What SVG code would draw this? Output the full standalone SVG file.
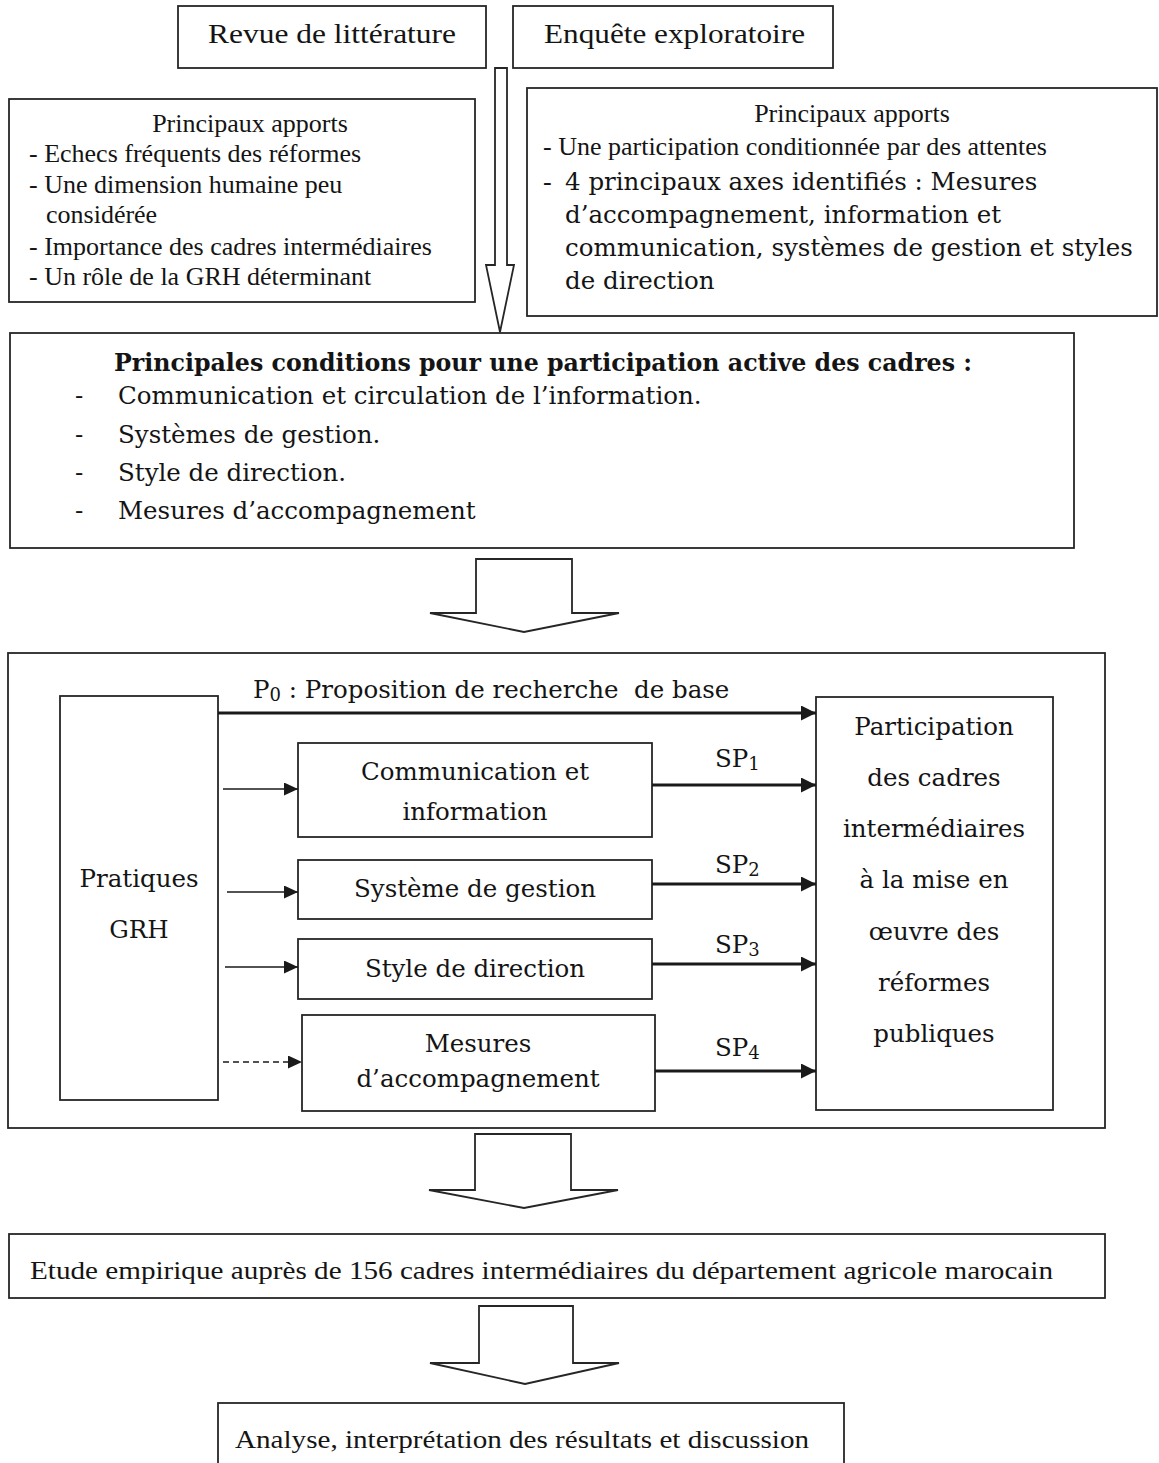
<svg xmlns="http://www.w3.org/2000/svg" width="1159" height="1463" viewBox="0 0 1159 1463">
  <defs>
    <marker id="headThin" markerUnits="userSpaceOnUse" markerWidth="15" markerHeight="14" refX="14" refY="6.5" orient="auto">
      <path d="M0,0 L14,6.5 L0,13 z" fill="#1a1a1a"/>
    </marker>
    <marker id="headBold" markerUnits="userSpaceOnUse" markerWidth="16" markerHeight="15" refX="15" refY="7.5" orient="auto">
      <path d="M0,0 L15,7.5 L0,15 z" fill="#1a1a1a"/>
    </marker>
  </defs>
  <style>
    .box { fill: #ffffff; stroke: #262626; stroke-width: 1.8; }
    .frame { fill: none; stroke: #262626; stroke-width: 1.8; }
    .block { fill: #ffffff; stroke: #262626; stroke-width: 1.8; stroke-linejoin: miter; }
    .tnr { font-family: "Liberation Serif", "Times New Roman", serif; fill: #141414; }
    .cam { font-family: "DejaVu Serif", serif; fill: #141414; font-size: 24.5px; }
    .bold { font-weight: bold; }
    .mid { text-anchor: middle; }
    .thin { stroke: #1a1a1a; stroke-width: 1.6; fill: none; marker-end: url(#headThin); }
    .dashed { stroke-dasharray: 6 4; }
    .thick { stroke: #1a1a1a; stroke-width: 3.2; fill: none; marker-end: url(#headBold); }
  </style>

  <rect width="1159" height="1463" fill="#ffffff"/>

  <!-- sources -->
  <g id="revue">
    <rect class="box" x="178" y="6" width="308" height="62"/>
    <text class="tnr mid" x="332" y="43" font-size="27" textLength="248" lengthAdjust="spacingAndGlyphs">Revue de littérature</text>
  </g>
  <g id="enquete">
    <rect class="box" x="513" y="6" width="320" height="62"/>
    <text class="tnr mid" x="674.5" y="43" font-size="27" textLength="261" lengthAdjust="spacingAndGlyphs">Enquête exploratoire</text>
  </g>

  <g id="apports-litterature">
    <rect class="box" x="9" y="99" width="466" height="203"/>
    <text class="tnr mid" x="250" y="132" font-size="26">Principaux apports</text>
    <text class="tnr" x="29" y="162" font-size="26">- Echecs fréquents des réformes</text>
    <text class="tnr" x="29" y="193" font-size="26">- Une dimension humaine peu</text>
    <text class="tnr" x="46" y="223" font-size="26">considérée</text>
    <text class="tnr" x="29" y="255" font-size="26">- Importance des cadres intermédiaires</text>
    <text class="tnr" x="29" y="285" font-size="26">- Un rôle de la GRH déterminant</text>
  </g>

  <g id="apports-enquete">
    <rect class="box" x="527" y="88" width="630" height="228"/>
    <text class="tnr mid" x="852" y="122" font-size="26">Principaux apports</text>
    <text class="tnr" x="543" y="155" font-size="26">- Une participation conditionnée par des attentes</text>
    <text class="tnr" x="543" y="190" font-size="26">-</text>
    <text class="cam" x="565" y="190">4 principaux axes identifiés : Mesures</text>
    <text class="cam" x="565" y="223">d’accompagnement, information et</text>
    <text class="cam" x="565" y="256">communication, systèmes de gestion et styles</text>
    <text class="cam" x="565" y="289">de direction</text>
  </g>

  <g id="conditions">
    <rect class="box" x="10" y="333" width="1064" height="215"/>
    <text class="cam bold" x="114" y="371" font-size="24" textLength="858" lengthAdjust="spacingAndGlyphs">Principales conditions pour une participation active des cadres :</text>
    <text class="cam" x="75" y="404">-</text>
    <text class="cam" x="118" y="404">Communication et circulation de l’information.</text>
    <text class="cam" x="75" y="443">-</text>
    <text class="cam" x="118" y="443">Systèmes de gestion.</text>
    <text class="cam" x="75" y="481">-</text>
    <text class="cam" x="118" y="481">Style de direction.</text>
    <text class="cam" x="75" y="519">-</text>
    <text class="cam" x="118" y="519">Mesures d’accompagnement</text>
  </g>

  <!-- research model -->
  <g id="modele">
    <rect class="frame" x="8" y="653" width="1097" height="475"/>
  </g>
  <g id="pratiques">
    <rect class="box" x="60" y="696" width="158" height="404"/>
    <text class="cam mid" x="139" y="887">Pratiques</text>
    <text class="cam mid" x="139" y="938">GRH</text>
  </g>
  <g id="communication">
    <rect class="box" x="298" y="743" width="354" height="94"/>
    <text class="cam mid" x="475" y="780">Communication et</text>
    <text class="cam mid" x="475" y="820">information</text>
  </g>
  <g id="systeme">
    <rect class="box" x="298" y="860" width="354" height="59"/>
    <text class="cam mid" x="475" y="897" font-size="22">Système de gestion</text>
  </g>
  <g id="style">
    <rect class="box" x="298" y="939" width="354" height="60"/>
    <text class="cam mid" x="475" y="977" font-size="24">Style de direction</text>
  </g>
  <g id="mesures">
    <rect class="box" x="302" y="1015" width="353" height="96"/>
    <text class="cam mid" x="478" y="1052">Mesures</text>
    <text class="cam mid" x="478" y="1087">d’accompagnement</text>
  </g>
  <g id="participation">
    <rect class="box" x="816" y="697" width="237" height="413"/>
    <text class="cam mid" x="934" y="735">Participation</text>
    <text class="cam mid" x="934" y="786">des cadres</text>
    <text class="cam mid" x="934" y="837">intermédiaires</text>
    <text class="cam mid" x="934" y="888">à la mise en</text>
    <text class="cam mid" x="934" y="940">œuvre des</text>
    <text class="cam mid" x="934" y="991">réformes</text>
    <text class="cam mid" x="934" y="1042">publiques</text>
  </g>

  <!-- study and analysis -->
  <g id="etude">
    <rect class="box" x="9" y="1234" width="1096" height="64"/>
    <text class="tnr" x="30" y="1279" font-size="26" textLength="1023" lengthAdjust="spacingAndGlyphs">Etude empirique auprès de 156 cadres intermédiaires du département agricole marocain</text>
  </g>
  <g id="analyse">
    <rect class="box" x="218" y="1403" width="626" height="80"/>
    <text class="tnr" x="235" y="1448" font-size="26" textLength="574" lengthAdjust="spacingAndGlyphs">Analyse, interprétation des résultats et discussion</text>
  </g>

  <!-- connectors -->
  <g id="connectors">
    <polygon class="block" points="495,68 507,68 507,265 514,265 500,332 486,265 495,265"/>
    <polygon class="block" points="476,559 572,559 572,613 619,613 524,632 430,613 476,613"/>
    <polygon class="block" points="475,1134 571,1134 571,1190 618,1190 524,1208 429,1190 475,1190"/>
    <polygon class="block" points="479,1306 573,1306 573,1363 619,1363 525,1384 430,1363 479,1363"/>

    <line class="thick" x1="218" y1="713" x2="816" y2="713"/>
    <text class="cam" x="253" y="698" xml:space="preserve">P<tspan font-size="18" dy="3">0</tspan><tspan dy="-3"> : Proposition de recherche  de base</tspan></text>

    <line class="thin" x1="223" y1="789" x2="298" y2="789"/>
    <line class="thin" x1="227" y1="892" x2="298" y2="892"/>
    <line class="thin" x1="225" y1="967" x2="298" y2="967"/>
    <line class="thin dashed" x1="223" y1="1062" x2="302" y2="1062"/>

    <line class="thick" x1="652" y1="785" x2="816" y2="785"/>
    <line class="thick" x1="652" y1="884" x2="816" y2="884"/>
    <line class="thick" x1="652" y1="964" x2="816" y2="964"/>
    <line class="thick" x1="655" y1="1071" x2="816" y2="1071"/>

    <text class="cam" x="715" y="767">SP<tspan font-size="18" dy="3">1</tspan></text>
    <text class="cam" x="715" y="873">SP<tspan font-size="18" dy="3">2</tspan></text>
    <text class="cam" x="715" y="953">SP<tspan font-size="18" dy="3">3</tspan></text>
    <text class="cam" x="715" y="1056">SP<tspan font-size="18" dy="3">4</tspan></text>
  </g>
</svg>
